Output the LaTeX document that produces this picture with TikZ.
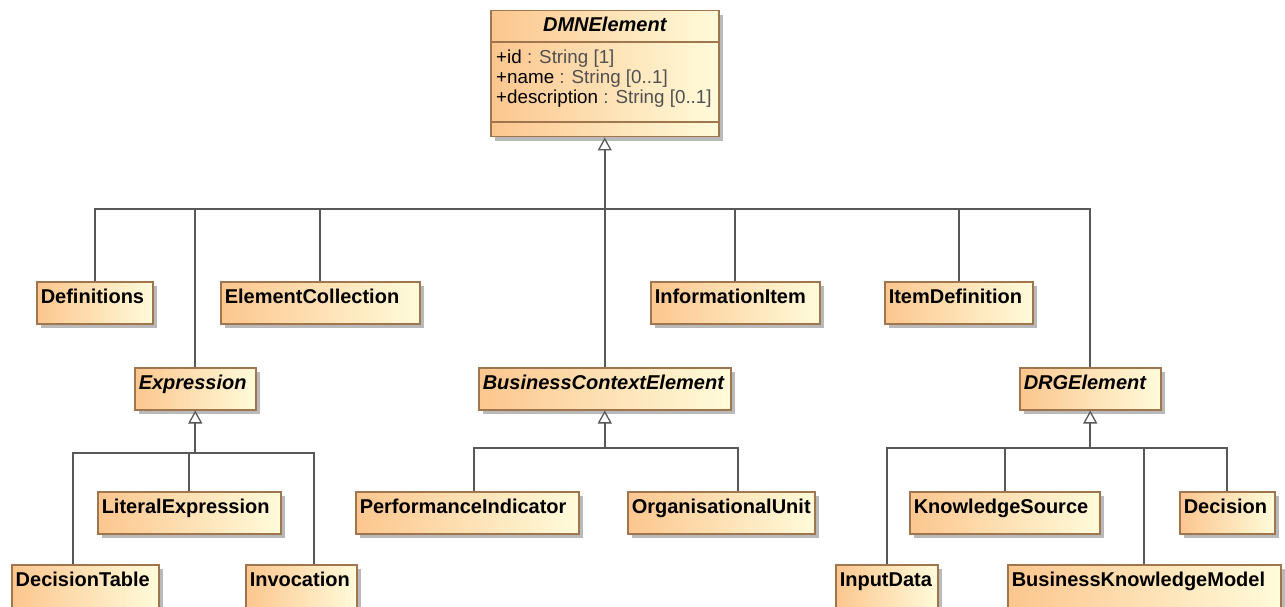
\documentclass[tikz,border=0pt]{standalone}
\usepackage{fontspec}
\setmainfont{Liberation Sans}
\usetikzlibrary{arrows.meta,shadows}
\definecolor{clsborder}{RGB}{160,118,78}
\definecolor{clsleft}{RGB}{252,198,142}
\definecolor{clsright}{RGB}{255,251,218}
\definecolor{clsshadow}{RGB}{185,185,185}
\definecolor{lnkgray}{RGB}{88,88,88}
\definecolor{typegray}{RGB}{80,80,80}
\tikzset{
  cls/.style={draw=clsborder, line width=1.5pt, left color=clsleft, right color=clsright,
    drop shadow={shadow xshift=4pt, shadow yshift=-4pt, fill=clsshadow, opacity=1},
    anchor=north west, inner xsep=4pt, inner ysep=0pt, minimum height=42pt,
    text height=14pt, text depth=12pt, align=left,
    font=\fontsize{20}{24}\selectfont\bfseries},
  abstract/.style={cls, font=\fontsize{20}{24}\selectfont\bfseries\itshape},
  cut/.style={minimum height=50pt, text depth=20pt},
  wd/.style={text width=#1pt-8pt},
  lnk/.style={draw=lnkgray, line width=1.6pt},
  gen/.style={lnk, -{Triangle[length=13pt, width=14pt, fill=white, line width=1.3pt]}},
}
\begin{document}
\begin{tikzpicture}[x=1pt,y=-1pt]
\useasboundingbox (0,0) rectangle (1285,607);

% Class DMNElement
\node[cls, minimum width=228pt, minimum height=126pt] (dmn) at (490,10) {};
\draw[draw=clsborder, line width=1.5pt] (dmn.west |- 0,42) -- (dmn.east |- 0,42);
\draw[draw=clsborder, line width=1.5pt] (dmn.west |- 0,122) -- (dmn.east |- 0,122);
\node[anchor=base, inner sep=0pt, font=\fontsize{20}{24}\selectfont\bfseries\itshape] (dmnname) at (dmn.north |- 0,32) {DMNElement};
\node[anchor=base west, inner sep=0pt, align=left, font=\fontsize{18.8}{20}\selectfont] (dmnattr) at (496,104)
  {+id \textcolor{typegray}{: String [1]}\\
   +name \textcolor{typegray}{: String [0..1]}\\
   +description \textcolor{typegray}{: String [0..1]}};

% Direct subclasses
\node[cls, wd=116] (defs) at (36,281) {Definitions};
\node[cls, wd=199] (elcoll) at (220,281) {ElementCollection};
\node[cls, wd=169] (infoitem) at (650,281) {InformationItem};
\node[cls, wd=148] (itemdef) at (884,281) {ItemDefinition};
\node[abstract, wd=121] (expr) at (134,367) {Expression};
\node[abstract, wd=252] (bce) at (478,367) {BusinessContextElement};
\node[abstract, wd=141] (drg) at (1019,367) {DRGElement};

% Subclasses of Expression
\node[cls, wd=183] (litexpr) at (97,491) {LiteralExpression};
\node[cls, cut, wd=147] (dectable) at (11,564) {DecisionTable};
\node[cls, cut, wd=111] (invoc) at (245,564) {Invocation};

% Subclasses of BusinessContextElement
\node[cls, wd=223] (perfind) at (355,491) {PerformanceIndicator};
\node[cls, wd=187] (orgunit) at (627,491) {OrganisationalUnit};

% Subclasses of DRGElement
\node[cls, wd=190] (ksource) at (909,491) {KnowledgeSource};
\node[cls, wd=95] (decision) at (1179,491) {Decision};
\node[cls, cut, wd=102] (inputdata) at (835,564) {InputData};
\node[cls, cut, wd=273] (bkm) at (1007,564) {BusinessKnowledgeModel};

% Generalization to DMNElement
\coordinate (dmnbus) at (dmn.south |- 0,209);
\draw[gen] (dmnbus) -- (dmn.south);
\draw[lnk] (defs.north) |- (dmnbus);
\draw[lnk] (elcoll.north) |- (dmnbus);
\draw[lnk] (expr.north) |- (dmnbus);
\draw[lnk] (bce.north) |- (dmnbus);
\draw[lnk] (infoitem.north) |- (dmnbus);
\draw[lnk] (itemdef.north) |- (dmnbus);
\draw[lnk] (drg.north) |- (dmnbus);

% Generalization to Expression
\coordinate (exprbus) at (expr.south |- 0,453);
\draw[gen] (exprbus) -- (expr.south);
\draw[lnk] ([xshift=-12.5pt]dectable.north) |- (exprbus);
\draw[lnk] (litexpr.north) |- (exprbus);
\draw[lnk] ([xshift=12.5pt]invoc.north) |- (exprbus);

% Generalization to BusinessContextElement
\coordinate (bcebus) at (bce.south |- 0,448);
\draw[gen] (bcebus) -- (bce.south);
\draw[lnk] ([xshift=6.5pt]perfind.north) |- (bcebus);
\draw[lnk] ([xshift=16.5pt]orgunit.north) |- (bcebus);

% Generalization to DRGElement
\coordinate (drgbus) at (drg.south |- 0,448);
\draw[gen] (drgbus) -- (drg.south);
\draw[lnk] (inputdata.north) |- (drgbus);
\draw[lnk] (ksource.north) |- (drgbus);
\draw[lnk] (bkm.north) |- (drgbus);
\draw[lnk] (decision.north) |- (drgbus);
\end{tikzpicture}
\end{document}
